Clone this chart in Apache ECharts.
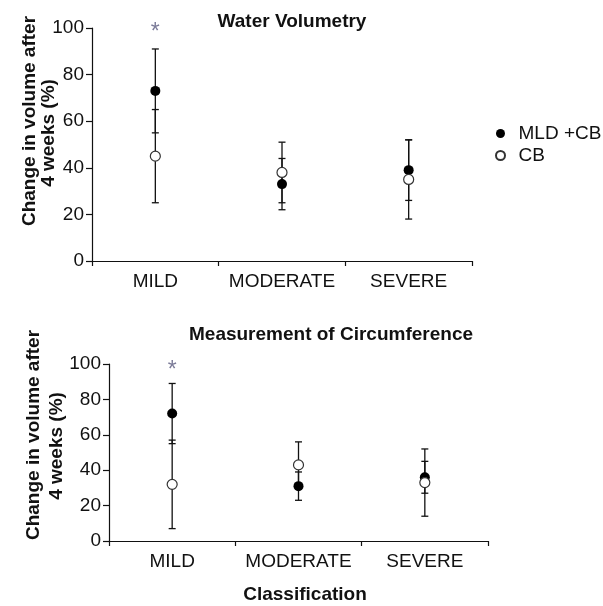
<!DOCTYPE html>
<html>
<head>
<meta charset="utf-8">
<script src="https://cdn.jsdelivr.net/npm/echarts@6/dist/echarts.min.js"></script>
<style>
  html, body { margin: 0; padding: 0; background: #fff; }
  #chart { width: 603px; height: 606px; }
</style>
</head>
<body>
<div id="chart"></div>
<script>
// categories and tick labels
var categories = ['MILD', 'MODERATE', 'SEVERE'];
var yTicks = [0, 20, 40, 60, 80, 100];

// Water Volumetry: means and error (+/-) per category
var wvMldCb = [73, 33, 39];
var wvMldCbErr = [18, 11, 13];
var wvCb = [45, 38, 35];
var wvCbErr = [20, 13, 17];

// Measurement of Circumference
var mcMldCb = [72, 31, 36];
var mcMldCbErr = [17, 8, 9];
var mcCb = [32, 43, 33];
var mcCbErr = [25, 13, 19];

// significance marker (category index, height)
var wvStar = [[0, 98]];
var mcStar = [[0, 96]];

var FONT = 'Liberation Sans, Arial, sans-serif';

function points(vals) {
  return vals.map(function (v, i) { return [i, v]; });
}
function bars(vals, errs) {
  return vals.map(function (v, i) { return [i, v - errs[i], v + errs[i]]; });
}

function errorBarItem(params, api) {
  var x = api.value(0);
  var top = api.coord([x, api.value(2)]);
  var bot = api.coord([x, api.value(1)]);
  var half = 3.5;
  var style = { stroke: '#111', lineWidth: 1.3 };
  return {
    type: 'group',
    children: [
      { type: 'line', shape: { x1: top[0], y1: top[1], x2: bot[0], y2: bot[1] }, style: style },
      { type: 'line', shape: { x1: top[0] - half, y1: top[1], x2: top[0] + half, y2: top[1] }, style: style },
      { type: 'line', shape: { x1: bot[0] - half, y1: bot[1], x2: bot[0] + half, y2: bot[1] }, style: style }
    ]
  };
}

function xAxisFor(idx) {
  return {
    type: 'category',
    gridIndex: idx,
    data: categories,
    boundaryGap: true,
    axisLine: { lineStyle: { color: '#111', width: 1.2 } },
    axisTick: { show: true, inside: false, interval: 0, length: 5, lineStyle: { color: '#111', width: 1.2 } },
    axisLabel: { color: '#111', fontSize: 19, fontFamily: FONT, margin: 11, interval: 0, hideOverlap: false },
    splitLine: { show: false }
  };
}
function yAxisFor(idx) {
  return {
    type: 'value',
    gridIndex: idx,
    min: yTicks[0],
    max: yTicks[yTicks.length - 1],
    interval: 20,
    axisLine: { show: true, lineStyle: { color: '#111', width: 1.2 } },
    axisTick: { show: true, length: 6, lineStyle: { color: '#111', width: 1.2 } },
    axisLabel: { color: '#111', fontSize: 19, fontFamily: FONT, margin: 8 },
    splitLine: { show: false }
  };
}

function filledSeries(name, idx, vals) {
  return {
    name: name, type: 'scatter', xAxisIndex: idx, yAxisIndex: idx,
    symbol: 'circle', symbolSize: 10, z: 5,
    itemStyle: { color: '#000', opacity: 1 },
    data: points(vals)
  };
}
function openSeries(name, idx, vals) {
  return {
    name: name, type: 'scatter', xAxisIndex: idx, yAxisIndex: idx,
    symbol: 'circle', symbolSize: 10, z: 5,
    itemStyle: { color: '#fff', borderColor: '#333', borderWidth: 1.2, opacity: 1 },
    data: points(vals)
  };
}
function errSeries(idx, vals, errs) {
  return {
    type: 'custom', xAxisIndex: idx, yAxisIndex: idx, z: 2,
    renderItem: errorBarItem, data: bars(vals, errs)
  };
}
function starSeries(idx, data) {
  return {
    type: 'scatter', xAxisIndex: idx, yAxisIndex: idx,
    symbolSize: 2, itemStyle: { color: 'rgba(0,0,0,0)' }, z: 6,
    label: {
      show: true, position: 'inside', formatter: '*',
      fontSize: 23, fontFamily: FONT, color: '#5a5a7e'
    },
    data: data
  };
}

var chart = echarts.init(document.getElementById('chart'));
chart.setOption({
  animation: false,
  backgroundColor: '#fff',
  title: [
    {
      text: 'Water Volumetry', left: 292, top: 12, textAlign: 'center', padding: 0,
      textStyle: { fontSize: 19, fontWeight: 'bold', fontFamily: FONT, color: '#111' }
    },
    {
      text: 'Measurement of Circumference', left: 331, top: 325, textAlign: 'center', padding: 0,
      textStyle: { fontSize: 19, fontWeight: 'bold', fontFamily: FONT, color: '#111' }
    }
  ],
  legend: {
    orient: 'vertical', left: 490, top: 119, itemWidth: 26, itemHeight: 9, itemGap: 3,
    data: ['MLD +CB', 'CB'],
    textStyle: { fontSize: 19, fontFamily: FONT, color: '#111', lineHeight: 19, padding: [0, 0, 0, 0] }
  },
  grid: [
    { left: 92, right: 131, top: 28, height: 233 },
    { left: 109, right: 115, top: 364, height: 177 }
  ],
  xAxis: [xAxisFor(0), xAxisFor(1)],
  yAxis: [yAxisFor(0), yAxisFor(1)],
  graphic: [
    { type: 'text', x: 30, y: 121, rotation: Math.PI / 2,
      style: { text: 'Change in volume after', font: 'bold 19px ' + FONT, fill: '#111', textAlign: 'center', textVerticalAlign: 'middle' } },
    { type: 'text', x: 49, y: 133, rotation: Math.PI / 2,
      style: { text: '4 weeks (%)', font: 'bold 19px ' + FONT, fill: '#111', textAlign: 'center', textVerticalAlign: 'middle' } },
    { type: 'text', x: 34, y: 435, rotation: Math.PI / 2,
      style: { text: 'Change in volume after', font: 'bold 19px ' + FONT, fill: '#111', textAlign: 'center', textVerticalAlign: 'middle' } },
    { type: 'text', x: 57, y: 446, rotation: Math.PI / 2,
      style: { text: '4 weeks (%)', font: 'bold 19px ' + FONT, fill: '#111', textAlign: 'center', textVerticalAlign: 'middle' } },
    { type: 'text', x: 305, y: 595,
      style: { text: 'Classification', font: 'bold 19px ' + FONT, fill: '#111', textAlign: 'center', textVerticalAlign: 'middle' } }
  ],
  series: [
    errSeries(0, wvMldCb, wvMldCbErr),
    errSeries(0, wvCb, wvCbErr),
    filledSeries('MLD +CB', 0, wvMldCb),
    openSeries('CB', 0, wvCb),
    starSeries(0, wvStar),
    errSeries(1, mcMldCb, mcMldCbErr),
    errSeries(1, mcCb, mcCbErr),
    filledSeries('MLD +CB', 1, mcMldCb),
    openSeries('CB', 1, mcCb),
    starSeries(1, mcStar)
  ]
});
</script>
</body>
</html>
